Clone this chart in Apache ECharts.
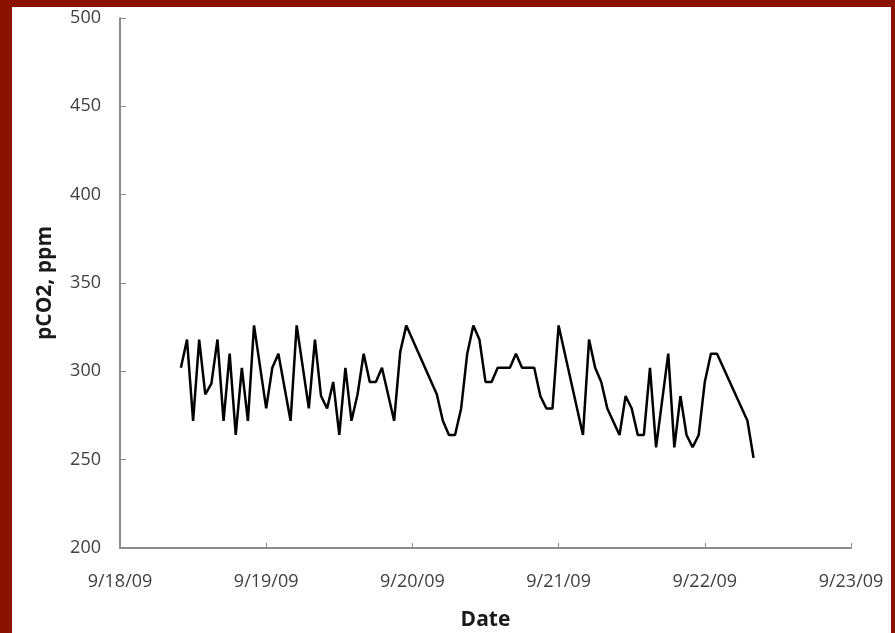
<!DOCTYPE html>
<html>
<head>
<meta charset="utf-8">
<script src="https://cdn.jsdelivr.net/npm/echarts@6/dist/echarts.min.js"></script>
<style>
  html, body { margin: 0; padding: 0; background: #fff; }
  #main { width: 895px; height: 633px; }
</style>
</head>
<body>
<div id="main"></div>
<script>
// hours counted from 9/18/09 00:00
var hours = [10, 11, 12, 13, 14, 15, 16, 17, 18, 19, 20, 21, 22, 24, 25, 26, 28, 29,
    31, 32, 33, 34, 35, 36, 37, 38, 39, 40, 41, 42, 43, 45, 46, 47,
    52, 53, 54, 55, 56, 57, 58, 59, 60, 61, 62, 64, 65, 66, 68, 69, 70, 71, 72,
    76, 77, 78, 79, 80, 82, 83, 84, 85, 86, 87, 88, 90, 91, 92, 93, 94, 95, 96, 97, 98,
    103, 104];
var pco2 = [302, 318, 272, 318, 287, 293, 318, 272, 310, 264, 302, 272, 326, 279, 302, 310, 272, 326,
    279, 318, 286, 279, 294, 264, 302, 272, 287, 310, 294, 294, 302, 272, 311, 326,
    287, 272, 264, 264, 279, 310, 326, 318, 294, 294, 302, 302, 310, 302, 302, 286, 279, 279, 326,
    264, 318, 302, 294, 279, 264, 286, 279, 264, 264, 302, 257, 310, 257, 286, 264, 257, 264, 294, 310, 310,
    272, 251];
var dateLabels = ['9/18/09', '9/19/09', '9/20/09', '9/21/09', '9/22/09', '9/23/09'];
var yTicks = [200, 250, 300, 350, 400, 450, 500];

var seriesData = hours.map(function (h, i) { return [h, pco2[i]]; });

var myChart = echarts.init(document.getElementById('main'));
var option = {
    backgroundColor: '#fff',
    animation: false,
    textStyle: { fontFamily: 'Open Sans' },
    grid: {
        left: 120,
        top: 18,
        width: 731,
        height: 530,
        outerBoundsMode: 'none'
    },
    //红色边框
    graphic: [
        { type: 'rect', left: 0, top: 0, shape: { width: 895, height: 7 }, style: { fill: '#8b1100' } },
        { type: 'rect', left: 0, top: 0, shape: { width: 12, height: 633 }, style: { fill: '#8b1100' } },
        { type: 'rect', left: 891, top: 0, shape: { width: 4, height: 633 }, style: { fill: '#8b1100' } }
    ],
    xAxis: {
        type: 'value',
        min: 0,
        max: 120,
        interval: 24,
        name: 'Date',
        nameLocation: 'middle',
        nameGap: 62,
        nameTextStyle: { fontSize: 21, fontWeight: 'bold', color: '#1a1a1a', fontFamily: 'Open Sans' },
        axisLine: { lineStyle: { color: '#8c8c8c', width: 2 } },
        axisTick: { inside: true, length: 5, lineStyle: { color: '#8c8c8c', width: 1 } },
        axisLabel: {
            fontSize: 18,
            color: '#404040',
            margin: 25,
            formatter: function (v) { return dateLabels[Math.round(v / 24)]; }
        },
        splitLine: { show: false }
    },
    yAxis: {
        type: 'value',
        min: yTicks[0],
        max: yTicks[yTicks.length - 1],
        interval: 50,
        name: 'pCO2, ppm',
        nameLocation: 'middle',
        nameGap: 64,
        nameRotate: 90,
        nameTextStyle: { fontSize: 21, fontWeight: 'bold', color: '#1a1a1a', fontFamily: 'Open Sans' },
        axisLine: { show: true, lineStyle: { color: '#8c8c8c', width: 2 } },
        axisTick: { show: true, inside: true, length: 6, lineStyle: { color: '#8c8c8c', width: 1 } },
        axisLabel: { fontSize: 18, color: '#404040', margin: 19 },
        splitLine: { show: false }
    },
    series: [{
        name: 'pCO2',
        type: 'line',
        data: seriesData,
        symbol: 'none',
        lineStyle: { color: '#000', width: 2.5 }
    }]
};
myChart.setOption(option);
</script>
</body>
</html>
